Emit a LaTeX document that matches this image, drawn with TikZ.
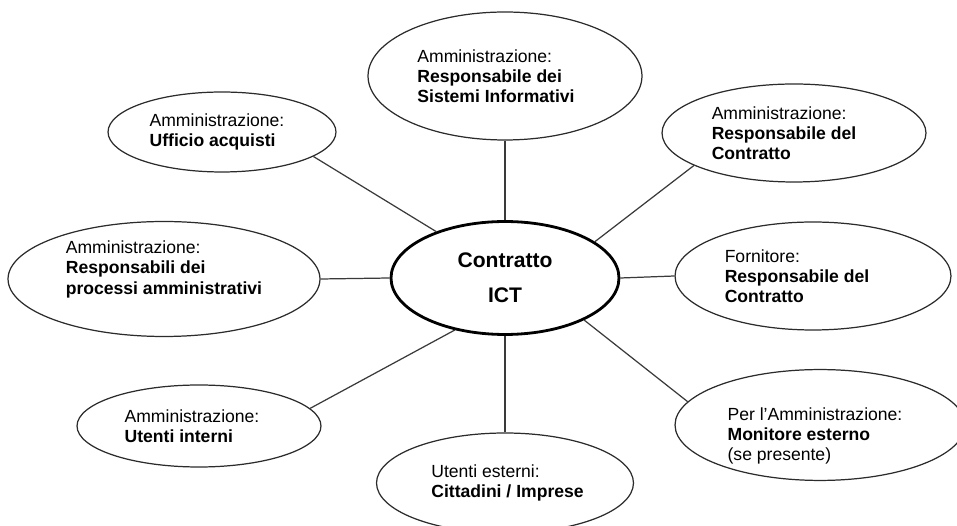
\documentclass[tikz,border=0pt]{standalone}
\usepackage{fontspec}
\setmainfont{Liberation Sans}
\usetikzlibrary{shapes.geometric}
\definecolor{bordoRuolo}{HTML}{2B2B2B}
\definecolor{lineaRuolo}{HTML}{3A3A3A}

\begin{document}
\begin{tikzpicture}[
    x=0.02cm, y=-0.02cm,
    ruolo/.style={ellipse, draw=bordoRuolo, line width=0.7pt, inner sep=0pt,
                  align=left, font=\fontsize{10}{11.5}\selectfont},
    centro/.style={ellipse, draw=black, line width=1.6pt, inner sep=0pt,
                   align=center, font=\fontsize{12}{14}\selectfont\bfseries},
    legame/.style={draw=lineaRuolo, line width=0.7pt}
  ]
  \useasboundingbox (0,0) rectangle (957,526);
  \clip (0,0) rectangle (957,526);

  \node[centro, minimum width=4.56cm, minimum height=2.26cm] (contratto) at (505,278)
    {Contratto\\[6pt] ICT};

  \node[ruolo, minimum width=5.48cm, minimum height=2.56cm] (sistemi) at (505,76)
    {Amministrazione:\\ \textbf{Responsabile dei}\\ \textbf{Sistemi Informativi}\hspace{0.36cm}\mbox{}};
  \node[ruolo, minimum width=4.56cm, minimum height=1.6cm] (acquisti) at (222,132)
    {Amministrazione:\hspace{0.2cm}\mbox{}\\ \textbf{Ufficio acquisti}};
  \node[ruolo, minimum width=5.28cm, minimum height=1.96cm] (respamm) at (794,133)
    {Amministrazione:\\ \textbf{Responsabile del}\hspace{0.4cm}\mbox{}\\ \textbf{Contratto}};
  \node[ruolo, minimum width=6.24cm, minimum height=2.3cm] (processi) at (164,279)
    {Amministrazione:\\ \textbf{Responsabili dei}\\ \textbf{processi amministrativi}\\[-2pt] \strut};
  \node[ruolo, minimum width=5.52cm, minimum height=2.16cm] (fornitore) at (813,276)
    {Fornitore:\\ \textbf{Responsabile del}\hspace{0.64cm}\mbox{}\\ \textbf{Contratto}};
  \node[ruolo, minimum width=4.88cm, minimum height=1.64cm] (interni) at (199,426)
    {Amministrazione:\hspace{0.28cm}\mbox{}\\ \textbf{Utenti interni}};
  \node[ruolo, minimum width=5.14cm, minimum height=2.0cm] (esterni) at (505,483)
    {Utenti esterni:\\ \textbf{Cittadini / Imprese}\hspace{-0.1cm}\mbox{}};
  \node[ruolo, minimum width=5.8cm, minimum height=1.92cm] (monitore) at (820,425)
    {\strut\\ Per l’Amministrazione:\hspace{0.2cm}\mbox{}\\ \textbf{Monitore esterno}\\ (se presente)};

  % legami verso il contratto
  \draw[legame] (sistemi) -- (contratto);
  \draw[legame] (acquisti.-15) -- (contratto.146);
  \draw[legame] (respamm.-162) -- (contratto.22);
  \draw[legame] (processi.east) -- (contratto.west);
  \draw[legame] (fornitore.west) -- (contratto.east);
  \draw[legame] (interni.9) -- (contratto.-134);
  \draw[legame] (esterni) -- (contratto);
  \draw[legame] (monitore.170) -- (contratto.-28);
\end{tikzpicture}
\end{document}
